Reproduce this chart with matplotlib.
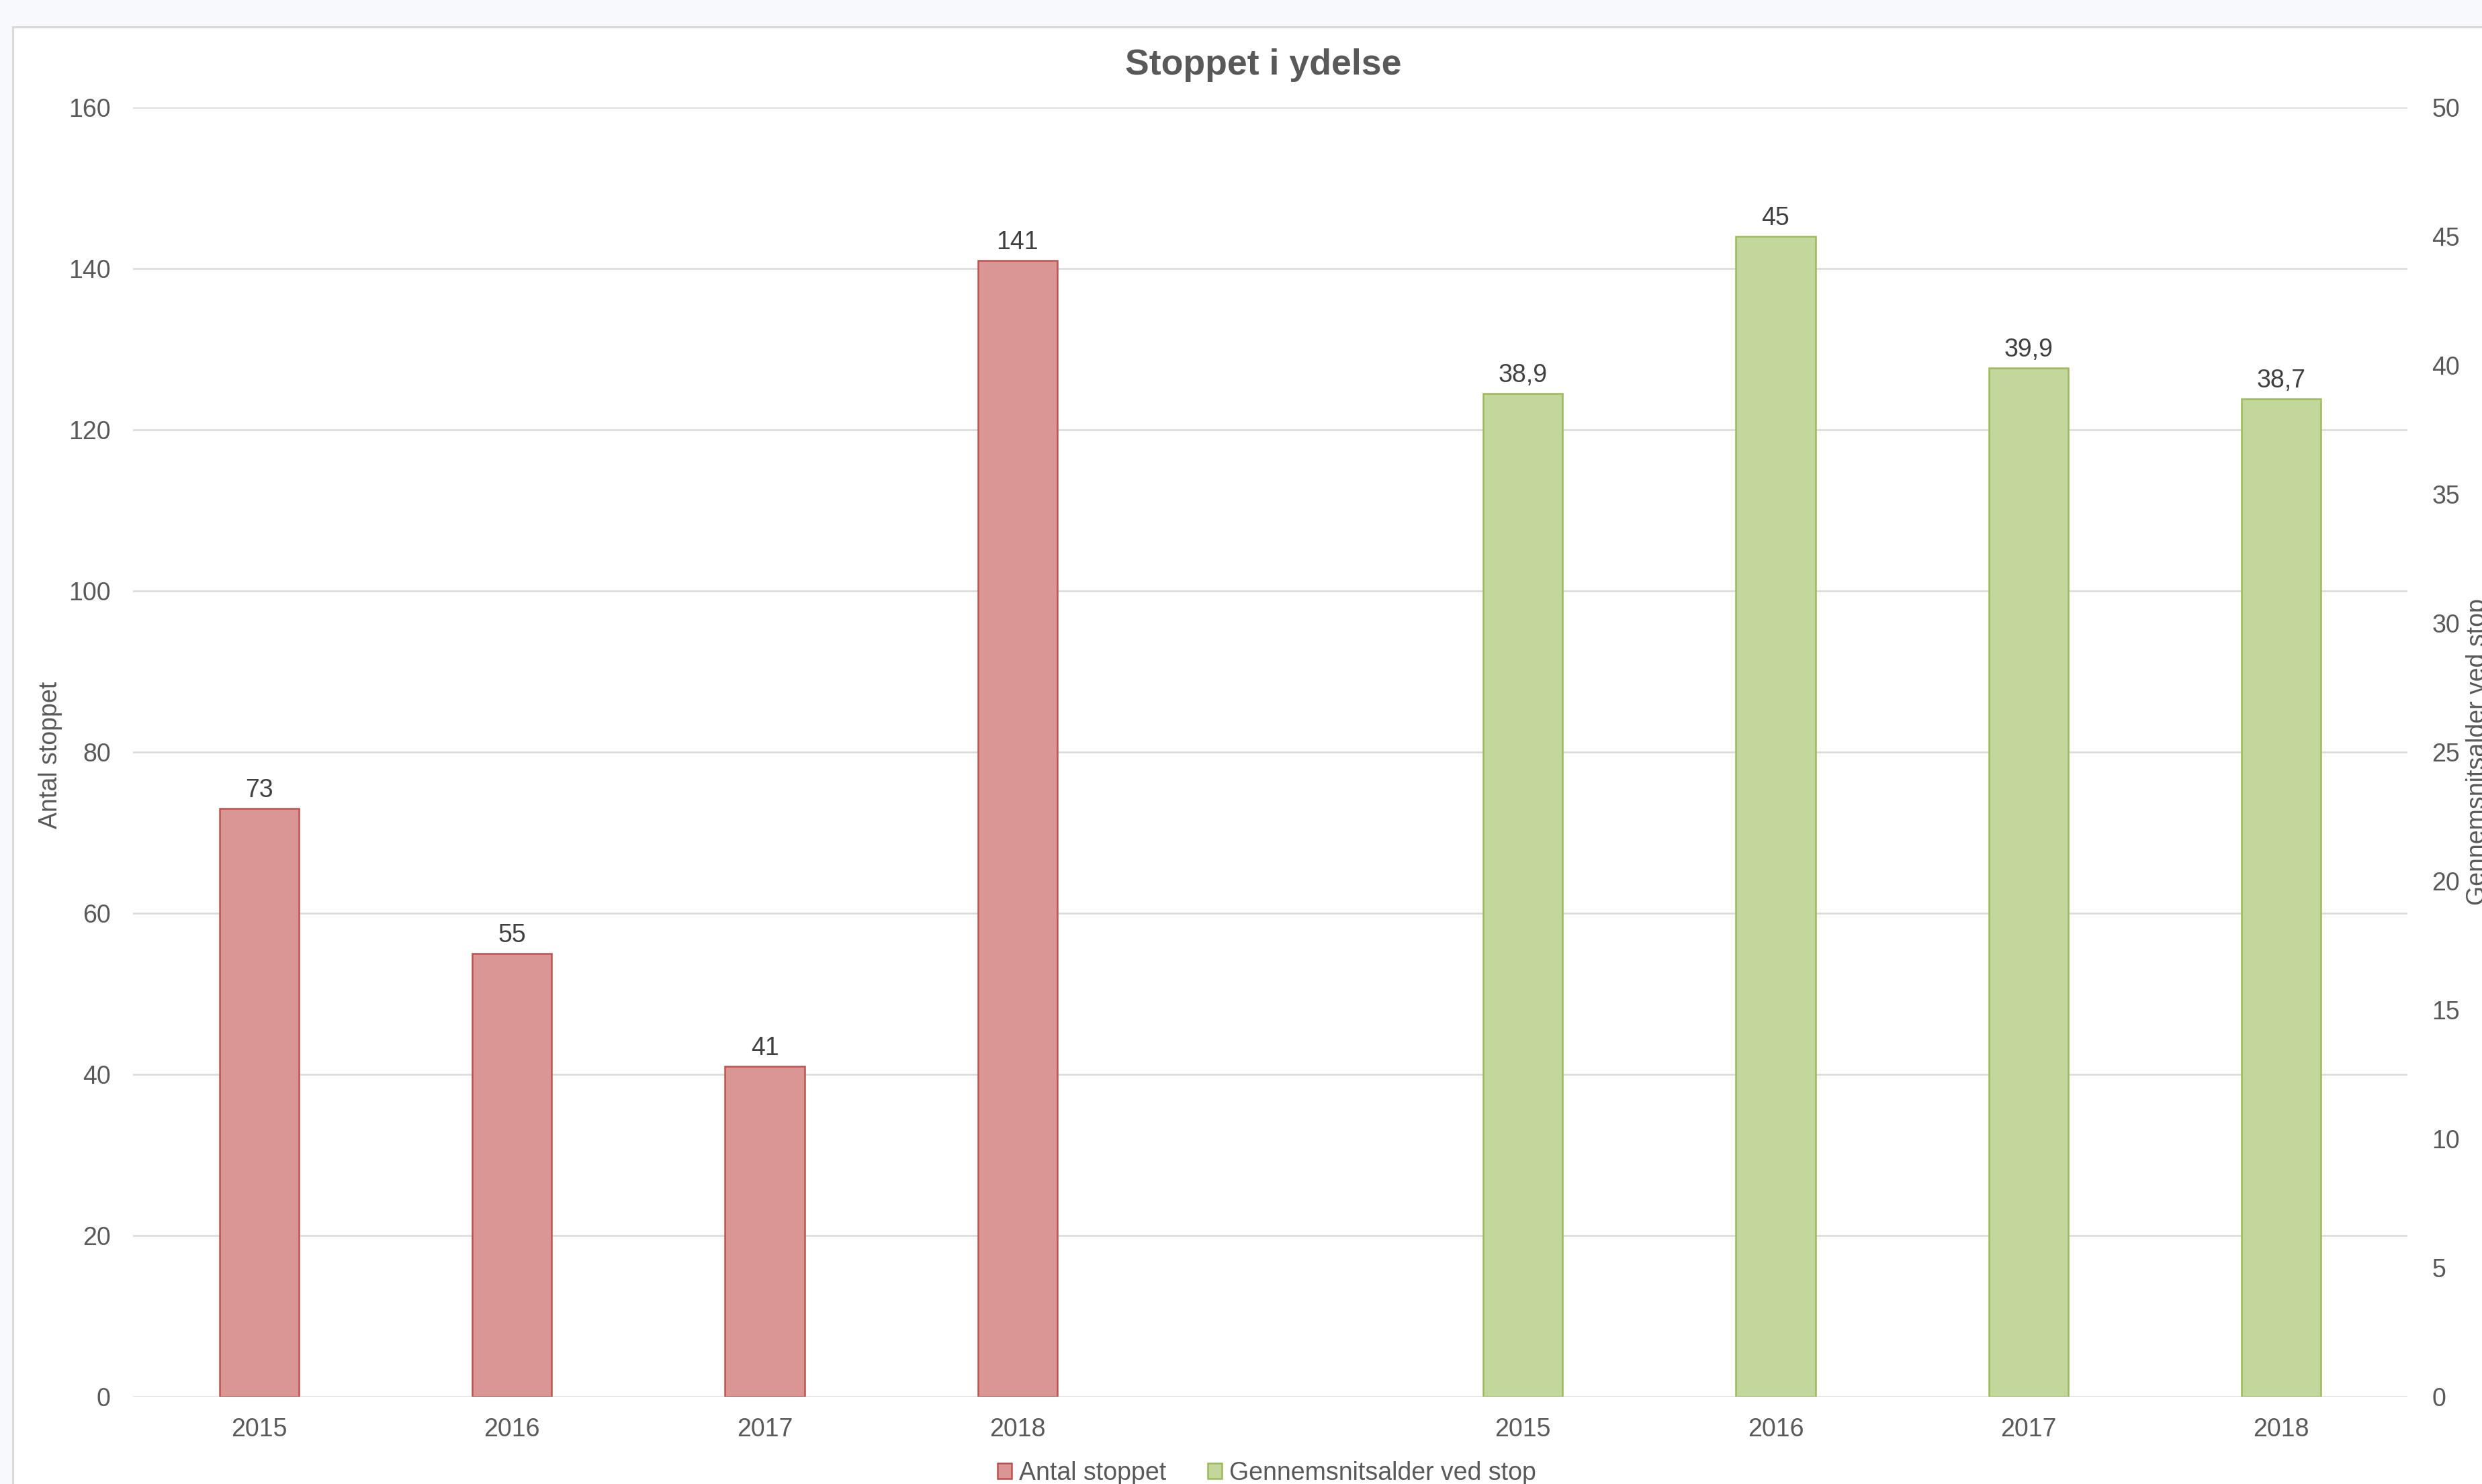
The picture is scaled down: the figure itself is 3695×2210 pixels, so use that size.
import numpy as np
import matplotlib.pyplot as plt
from matplotlib.patches import Rectangle

plt.rcParams['font.family'] = ['Liberation Sans', 'DejaVu Sans']

# data
years = ['2015', '2016', '2017', '2018']
antal = [73, 55, 41, 141]
alder = [38.9, 45, 39.9, 38.7]
labels = years + [''] + years

W, H, DPI = 3695, 2210, 200
fig = plt.figure(figsize=(W / DPI, H / DPI), dpi=DPI, facecolor='#f8f9fd')

# chart frame (white with grey border, running past right and bottom edge)
fig.patches.append(Rectangle((19 / W, -0.1), 1.2, (H - 40) / H + 0.1, transform=fig.transFigure,
                             facecolor='white', edgecolor='#d9d9d9', lw=1.1, zorder=-10))

ax = fig.add_axes([198 / W, 1 - 2080 / H, (3584 - 198) / W, (2080 - 160) / H])
ax.set_facecolor('none')
ax2 = ax.twinx()
ax2.set_facecolor('none')

xpos = np.arange(len(labels))
bw = 0.314
red_fill, red_edge = '#d99694', '#c0504d'
grn_fill, grn_edge = '#c3d69b', '#9bbb59'

b1 = ax.bar(xpos[:4], antal, width=bw, color=red_fill, edgecolor=red_edge, lw=0.9, zorder=3,
            label='Antal stoppet')
b2 = ax2.bar(xpos[5:], alder, width=bw, color=grn_fill, edgecolor=grn_edge, lw=0.9, zorder=3,
             label='Gennemsnitsalder ved stop')

for x, v in zip(xpos[:4], antal):
    ax.annotate(str(v), (x, v), xytext=(0, 3.2), textcoords='offset points',
                ha='center', va='bottom', fontsize=13.5, color='#404040')
for x, v in zip(xpos[5:], alder):
    ax2.annotate(f'{v:g}'.replace('.', ','), (x, v), xytext=(0, 3.2), textcoords='offset points',
                 ha='center', va='bottom', fontsize=13.5, color='#404040')

ax.set_xlim(-0.5, len(labels) - 0.5)
ax.set_ylim(0, 160)
ax2.set_ylim(0, 50)
ax.set_yticks(np.arange(0, 161, 20))
ax2.set_yticks(np.arange(0, 51, 5))
ax.set_xticks(xpos)
ax.set_xticklabels(labels)

ax.grid(axis='y', color='#d9d9d9', lw=0.9, zorder=0)
ax.set_axisbelow(True)
for a in (ax, ax2):
    for s in a.spines.values():
        s.set_visible(False)
ax.tick_params(axis='both', length=0, labelsize=13.5, labelcolor='#595959')
ax.tick_params(axis='y', pad=12)
ax.tick_params(axis='x', pad=11)
ax2.tick_params(axis='y', length=0, labelsize=13.5, labelcolor='#595959', pad=13)

fig.text(1881 / W, 1 - 97 / H, 'Stoppet i ydelse', ha='center', va='center',
         fontsize=19.3, fontweight='bold', color='#595959')
fig.text(57 / W, 1 - 1124 / H, 'Antal stoppet', rotation=90, ha='left', va='center',
         fontsize=13.5, color='#595959')
fig.text(3671 / W, 1 - 1120 / H, 'Gennemsnitsalder ved stop', rotation=90, ha='left', va='center',
         fontsize=13.5, color='#595959')

fig.legend(handles=[b1, b2], loc='center', bbox_to_anchor=(1886 / W, 1 - 2194 / H), ncol=2,
           frameon=False, fontsize=13.5, labelcolor='#595959', handlelength=0.55,
           handleheight=0.55, handletextpad=0.3, columnspacing=1.65, borderpad=0)

fig.savefig('out.png', dpi=DPI, facecolor=fig.get_facecolor())
